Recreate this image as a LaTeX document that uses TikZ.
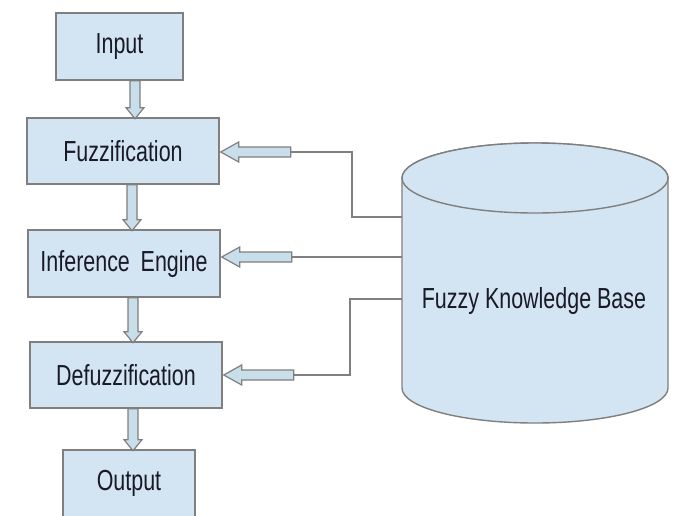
\documentclass[tikz,border=0pt]{standalone}
\usepackage{fontspec}
\setmainfont{Liberation Sans}[FakeStretch=0.74]
\usetikzlibrary{calc}
\definecolor{boxfill}{HTML}{D3E5F2}
\definecolor{boxline}{HTML}{7F7F7F}
\definecolor{arrfill}{HTML}{C8DEEA}
\definecolor{txt}{HTML}{1A1A26}
\tikzset{
  blk/.style={draw=boxline, fill=boxfill, line width=1.4pt, inner sep=0pt,
    text=txt, font=\fontsize{29}{32}\selectfont},
  barrow/.style={draw=boxline, fill=arrfill, line width=1.2pt, line join=miter},
  link/.style={draw=boxline, line width=1.4pt},
}
\begin{document}
\begin{tikzpicture}[x=1pt,y=-1pt]
\useasboundingbox (0,0) rectangle (677,515);
\clip (0,0) rectangle (677,515);
\fill[white] (0,0) rectangle (677,515);
% boxes
\node[blk, minimum width=127pt, minimum height=67pt] (in) at (119.5,46.5) {Input};
\node[blk, minimum width=192pt, minimum height=66pt] (fz) at (123,151) {Fuzzification};
\node[blk, minimum width=192pt, minimum height=67pt] (ie) at (124,263.5) {Inference\, Engine};
\node[blk, minimum width=192pt, minimum height=66pt] (dz) at (126,375) {Defuzzification};
\node[blk, minimum width=132pt, minimum height=67pt] (out) at (129,483.5) {Output};
% cylinder
\draw[draw=boxline, fill=boxfill, line width=1.4pt]
  (402,178) -- (402,388) arc[start angle=180,end angle=0,x radius=133,y radius=35]
  -- (668,178) arc[start angle=0,end angle=-180,x radius=133,y radius=35] -- cycle;
\draw[draw=boxline, fill=boxfill, line width=1.4pt] (535,178) ellipse[x radius=133,y radius=35];
\node[text=txt, font=\fontsize{29}{32}\selectfont] (kb) at (534,301) {Fuzzy Knowledge Base};
\coordinate (k1) at (402,217);
\coordinate (k2) at (402,257);
\coordinate (k3) at (402,299);
% vertical block arrows
\draw[barrow] ($(in.south)+(10.5,0)$) -- ++(10,0) -- ++(0,27) -- ++(4,0) -- ++(-9,11) -- ++(-9,-11) -- ++(4,0) -- cycle;
\draw[barrow] ($(fz.south)+(4,0)$) -- ++(10,0) -- ++(0,35) -- ++(4,0) -- ++(-9,11) -- ++(-9,-11) -- ++(4,0) -- cycle;
\draw[barrow] ($(ie.south)+(4,0)$) -- ++(10,0) -- ++(0,34) -- ++(4,0) -- ++(-9,11) -- ++(-9,-11) -- ++(4,0) -- cycle;
\draw[barrow] ($(dz.south)+(2,0)$) -- ++(10,0) -- ++(0,31) -- ++(4,0) -- ++(-9,11) -- ++(-9,-11) -- ++(4,0) -- cycle;
% horizontal block arrows
\draw[barrow] ($(fz.east)+(1,1)$) -- ++(18,-10) -- ++(0,5) -- ++(52,0) coordinate (a1) -- ++(0,10) -- ++(-52,0) -- ++(0,5) -- cycle;
\draw[barrow] ($(ie.east)+(1,-6.5)$) -- ++(18,-10) -- ++(0,5) -- ++(52,0) coordinate (a2) -- ++(0,10) -- ++(-52,0) -- ++(0,5) -- cycle;
\draw[barrow] ($(dz.east)+(1,0)$) -- ++(18,-10) -- ++(0,5) -- ++(52,0) coordinate (a3) -- ++(0,10) -- ++(-52,0) -- ++(0,5) -- cycle;
% connector lines
\draw[link] (k1) -- (352,217) |- ($(a1)+(0,5)$);
\draw[link] (k2) -- ($(a2)+(0,5)$);
\draw[link] (k3) -- (350,299) |- ($(a3)+(0,5)$);
\end{tikzpicture}
\end{document}
